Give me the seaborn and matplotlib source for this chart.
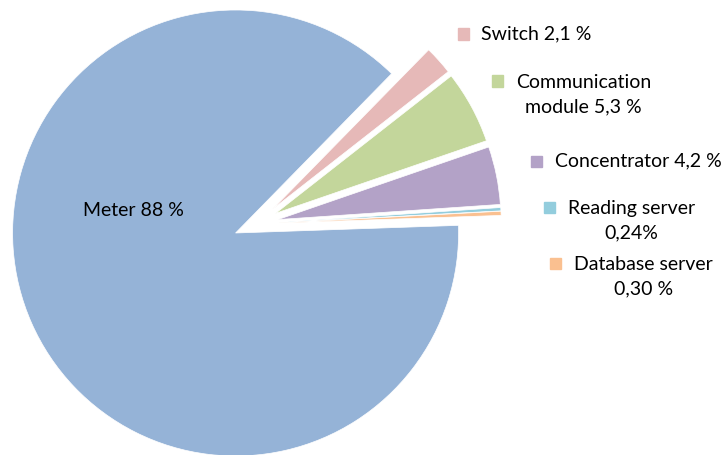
import matplotlib
matplotlib.use("Agg")
import matplotlib.pyplot as plt
import seaborn as sns

sns.set_theme(style="white")
plt.rcParams["font.family"] = ["Lato", "DejaVu Sans"]

# Share of each component (percent), in clockwise drawing order
components = ["Switch", "Communication module", "Concentrator",
              "Reading server", "Database server", "Meter"]
shares = [2.1, 5.3, 4.2, 0.24, 0.30, 88]
labels = ["Switch 2,1 %", "Communication\nmodule 5,3 %", "Concentrator 4,2 %",
          "Reading server\n0,24%", "Database server\n0,30 %", "Meter 88 %"]
colors = ["#E6B9B8", "#C3D69B", "#B3A2C7", "#93CDDD", "#FAC090", "#95B3D7"]

W, H = 725, 455
fig = plt.figure(figsize=(W / 100, H / 100), dpi=100)
ax = fig.add_axes([0, 0, 1, 1])

# pie centre and radius in pixels
cx, cy, r = 256.0, 224.0, 223.0

ax.pie(shares, colors=colors, explode=[0.1] * len(shares),
       startangle=45.6, counterclock=False, normalize=True,
       wedgeprops=dict(edgecolor="white", linewidth=0.5))
ax.set_aspect("auto")
ax.set_xlim(-cx / r, (W - cx) / r)
ax.set_ylim(-(H - cy) / r, cy / r)
ax.axis("off")

# label positions (pixel coords): marker square left, text start, text centre y
legend_pos = [
    (458, 481, 34),
    (492, 516, 81),
    (531, 555, 161),
    (544, 568, 207),
    (550, 574, 263),
]
fs = 14
for (mx, tx, ty), lab, col in zip(legend_pos, labels[:5], colors[:5]):
    fig.patches.append(plt.Rectangle((mx / W, 1 - (ty + 5.5) / H), 11 / W, 11 / H,
                                     transform=fig.transFigure, color=col,
                                     figure=fig))
    lines = lab.split("\n")
    if len(lines) == 1:
        fig.text(tx / W, 1 - ty / H, lab, ha="left", va="center",
                 fontsize=fs, color="#000000")
    else:
        fig.text(tx / W, 1 - (ty + 13.5) / H, lab, ha="left", va="center",
                 multialignment="center", fontsize=fs, color="#000000",
                 linespacing=1.55)

fig.text(133 / W, 1 - 211 / H, labels[5], ha="center", va="center",
         fontsize=fs, color="#000000")

fig.savefig("out.png", dpi=100, facecolor="white")
